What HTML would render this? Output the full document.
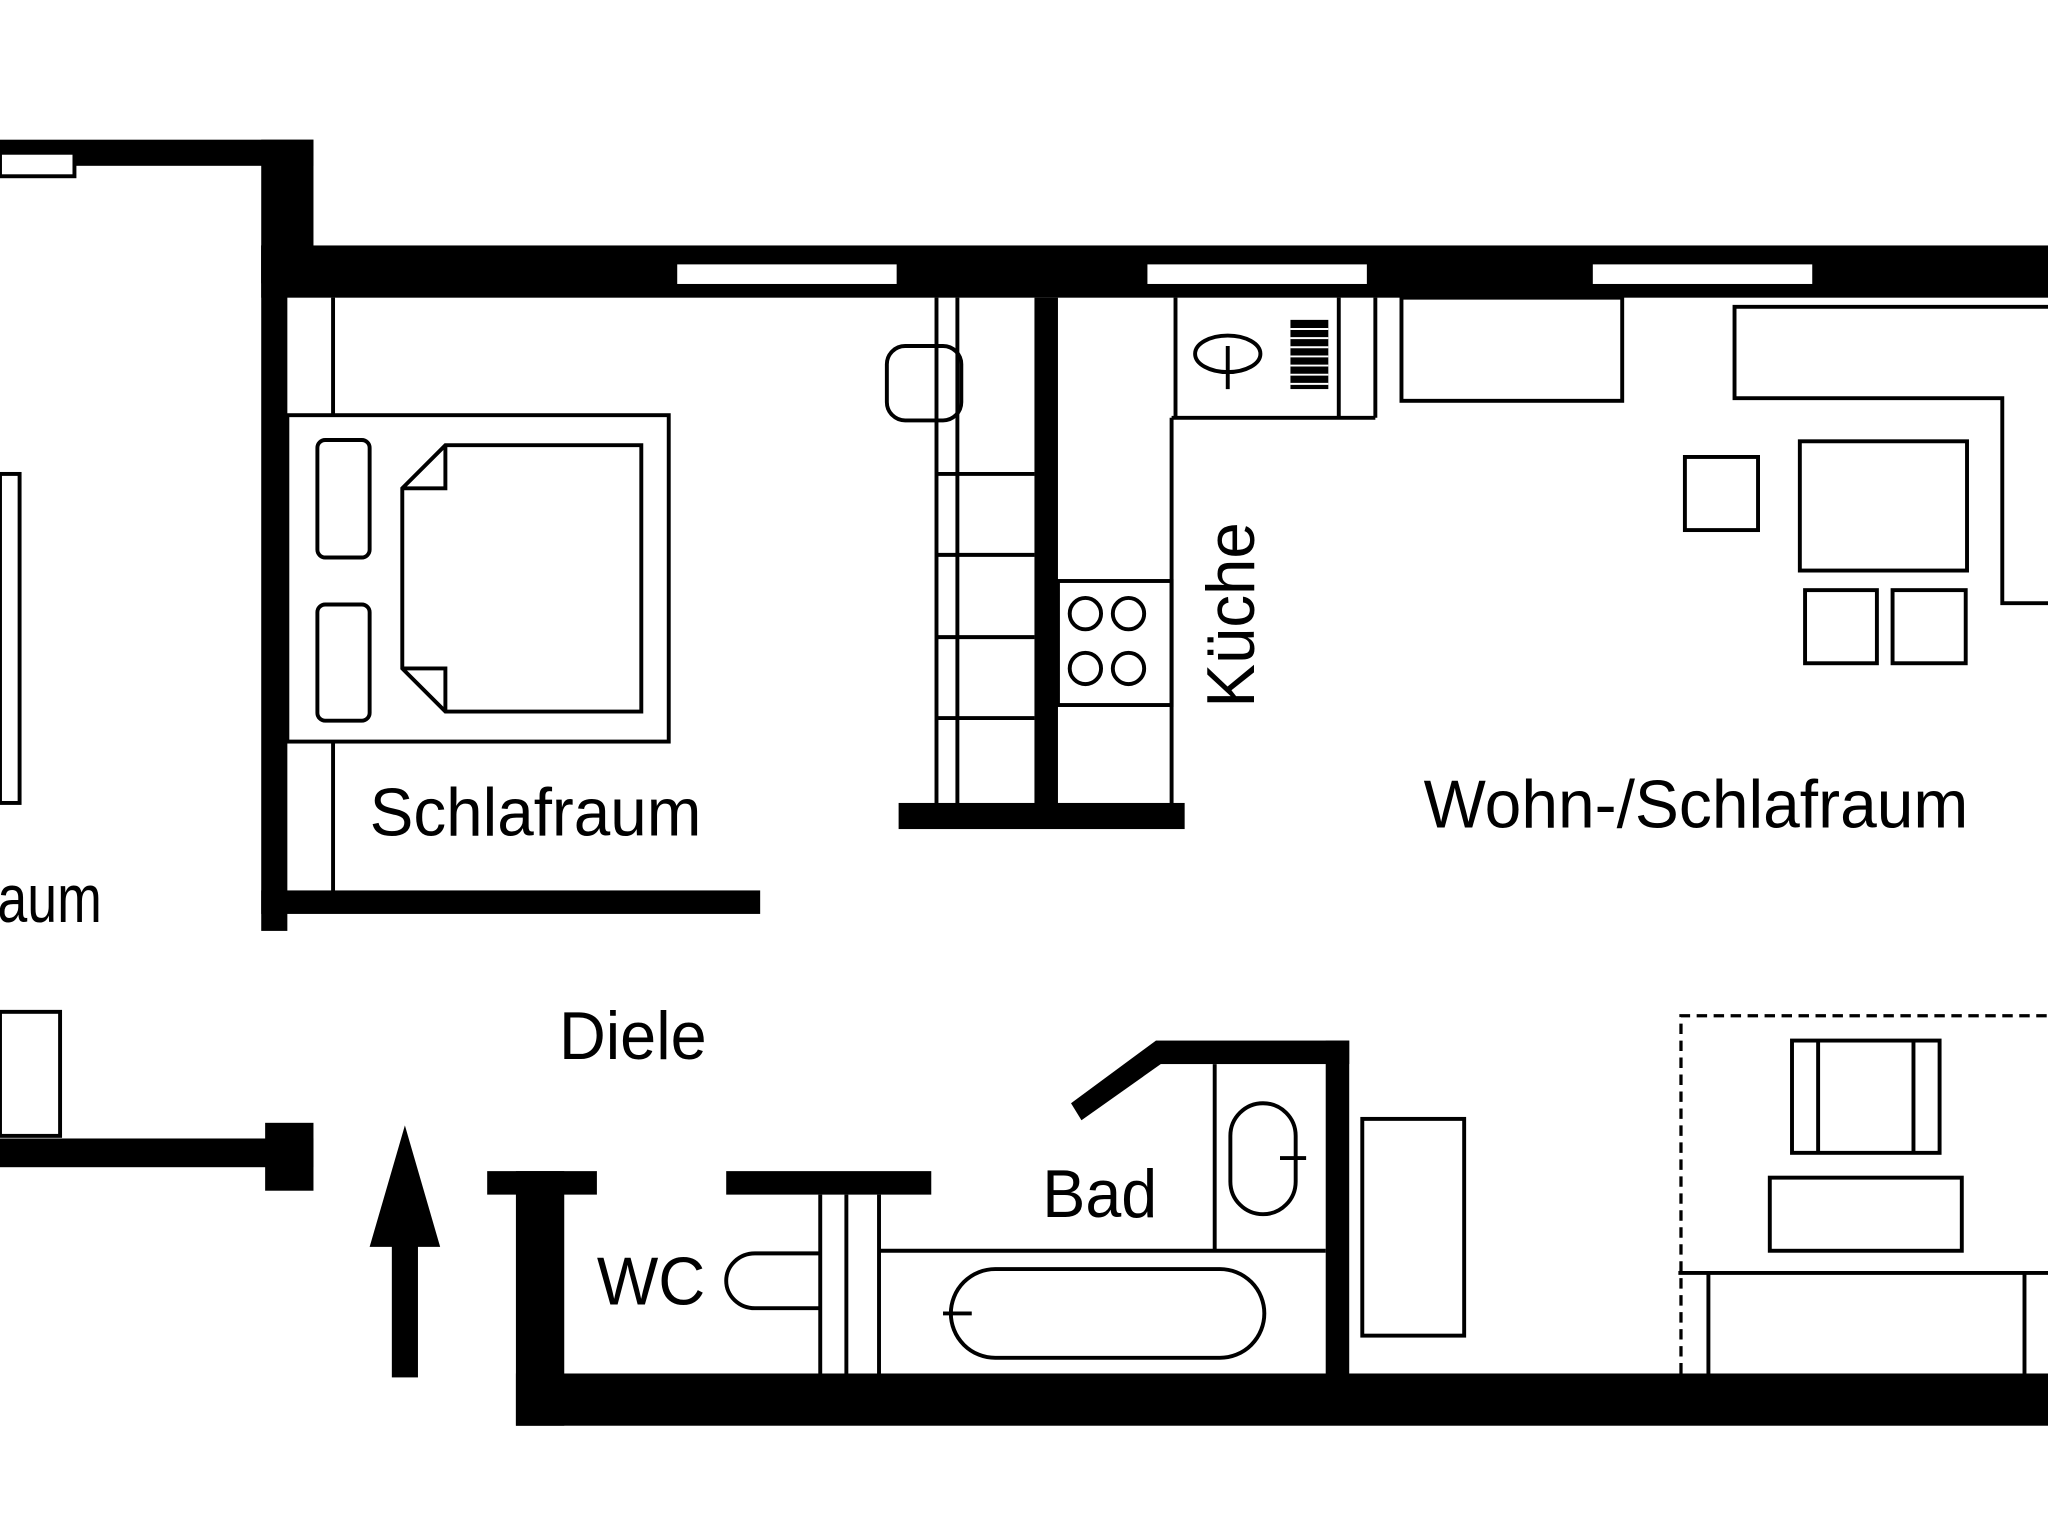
<!DOCTYPE html>
<html><head><meta charset="utf-8"><style>html,body{margin:0;padding:0;background:#fff}svg{display:block}</style></head>
<body>
<svg width="2048" height="1538" viewBox="0 0 1568 1178" preserveAspectRatio="none" xmlns="http://www.w3.org/2000/svg">
<rect width="1568" height="1178" fill="#fff"/>
<g fill="#000">
<rect x="0" y="107" width="240" height="20"/>
<rect x="200" y="107" width="40" height="110"/>
<rect x="200" y="188" width="1368" height="40"/>
<rect x="200" y="188" width="20" height="525"/>
<rect x="200" y="682" width="382" height="18"/>
<rect x="792" y="228" width="18" height="390"/>
<rect x="688" y="615" width="219" height="20"/>
<rect x="0" y="872" width="240" height="22"/>
<rect x="203" y="860" width="37" height="52"/>
<rect x="300" y="950" width="20" height="105"/>
<polygon points="283,955 310,862 337,955"/>
<rect x="373" y="897" width="84" height="18"/>
<rect x="395" y="897" width="37" height="195"/>
<rect x="395" y="1052" width="1173" height="40"/>
<rect x="556" y="897" width="157" height="18"/>
<rect x="885" y="797" width="148" height="18"/>
<rect x="1015" y="797" width="18" height="258"/>
<polygon points="820,845 885,797 893,812 828,858"/>
</g>
<g fill="#fff" stroke="#000" stroke-width="3">
<rect x="0" y="117" width="57" height="18"/>
<rect x="517" y="201" width="171" height="18"/>
<rect x="877" y="201" width="171" height="18"/>
<rect x="1218" y="201" width="171" height="18"/>
</g>
<g fill="none" stroke="#000" stroke-width="3">
<line x1="255" y1="228" x2="255" y2="318"/>
<line x1="255" y1="568" x2="255" y2="684"/>
<rect x="220" y="318" width="292" height="250"/>
<rect x="243" y="337" width="40" height="90" rx="6"/>
<rect x="243" y="463" width="40" height="89" rx="6"/>
<polygon points="341,341 491,341 491,545 341,545 308,512 308,374"/>
<polyline points="308,374 341,374 341,341"/>
<polyline points="308,512 341,512 341,545"/>
<rect x="0" y="363" width="15" height="252"/>
<line x1="717" y1="228" x2="717" y2="615"/>
<line x1="733" y1="228" x2="733" y2="615"/>
<line x1="717" y1="363" x2="792" y2="363"/>
<line x1="717" y1="425" x2="792" y2="425"/>
<line x1="717" y1="488" x2="792" y2="488"/>
<line x1="717" y1="550" x2="792" y2="550"/>
<rect x="679" y="265" width="57" height="57" rx="14"/>
<line x1="897" y1="320" x2="897" y2="615"/>
<line x1="900" y1="228" x2="900" y2="320"/>
<line x1="897" y1="320" x2="1053" y2="320"/>
<line x1="1053" y1="228" x2="1053" y2="320"/>
<line x1="1025" y1="228" x2="1025" y2="320"/>
<rect x="810" y="445" width="87" height="95"/>
<circle cx="831" cy="470" r="12"/><circle cx="864" cy="470" r="12"/>
<circle cx="831" cy="512" r="12"/><circle cx="864" cy="512" r="12"/>
<ellipse cx="940" cy="271" rx="25" ry="14"/>
<line x1="940" y1="265" x2="940" y2="298"/>
<rect x="1073" y="228" width="169" height="79"/>
<polyline points="1568,235 1328,235 1328,305 1533,305 1533,462 1568,462"/>
<rect x="1378" y="338" width="128" height="99"/>
<rect x="1382" y="452" width="55" height="56"/>
<rect x="1449" y="452" width="56" height="56"/>
<rect x="1290" y="350" width="56" height="56"/>
<rect x="0" y="775" width="46" height="95"/>
<line x1="628" y1="915" x2="628" y2="1052"/>
<line x1="648" y1="915" x2="648" y2="1052"/>
<path d="M628,960 L578,960 A22,21 0 0 0 578,1002 L628,1002"/>
<line x1="930" y1="815" x2="930" y2="958"/>
<line x1="673" y1="958" x2="1015" y2="958"/>
<line x1="673" y1="915" x2="673" y2="1052"/>
<rect x="942" y="845" width="50" height="85" rx="25"/>
<line x1="980" y1="887" x2="1000" y2="887"/>
<rect x="728" y="972" width="240" height="68" rx="34"/>
<line x1="722" y1="1006" x2="744" y2="1006"/>
<rect x="1043" y="857" width="78" height="166"/>
<polyline points="1287,1052 1287,778 1568,778" stroke-dasharray="8,5" stroke-width="2.5"/>
<rect x="1372" y="797" width="113" height="86"/>
<line x1="1392" y1="797" x2="1392" y2="883"/>
<line x1="1465" y1="797" x2="1465" y2="883"/>
<rect x="1355" y="902" width="147" height="56"/>
<line x1="1285" y1="975" x2="1568" y2="975"/>
<line x1="1308" y1="975" x2="1308" y2="1052"/>
<line x1="1550" y1="975" x2="1550" y2="1052"/>
</g>
<g fill="#000">
<rect x="988" y="245" width="29" height="53"/>
</g>
<g stroke="#fff" stroke-width="1.5">
<line x1="988" y1="252" x2="1017" y2="252"/><line x1="988" y1="259" x2="1017" y2="259"/>
<line x1="988" y1="266" x2="1017" y2="266"/><line x1="988" y1="273" x2="1017" y2="273"/>
<line x1="988" y1="280" x2="1017" y2="280"/><line x1="988" y1="287" x2="1017" y2="287"/>
<line x1="988" y1="294" x2="1017" y2="294"/>
</g>
<g font-family="Liberation Sans, sans-serif" font-size="52" fill="#000">
<text x="283" y="640" textLength="254" lengthAdjust="spacingAndGlyphs">Schlafraum</text>
<text x="1090" y="634" textLength="417" lengthAdjust="spacingAndGlyphs">Wohn-/Schlafraum</text>
<text x="428" y="811" textLength="113" lengthAdjust="spacingAndGlyphs">Diele</text>
<text x="798" y="932" textLength="88" lengthAdjust="spacingAndGlyphs">Bad</text>
<text x="457" y="999" textLength="83" lengthAdjust="spacingAndGlyphs">WC</text>
<text x="-2" y="706" textLength="80" lengthAdjust="spacingAndGlyphs">aum</text>
<text transform="translate(960,542) rotate(-90)" textLength="142" lengthAdjust="spacingAndGlyphs">Küche</text>
</g>
</svg>
</body></html>
